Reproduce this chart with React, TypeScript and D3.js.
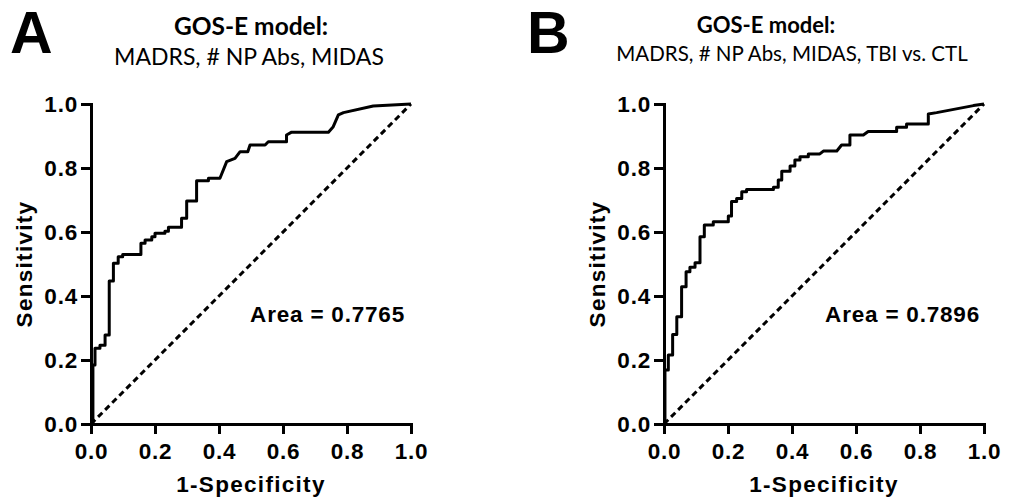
import React, { useEffect, useRef } from 'react';
import * as d3 from 'd3';

// ROC vertices (1-specificity, sensitivity)
const rocA_fpr = [0, 0.006, 0.006, 0.0125, 0.0125, 0.028, 0.028, 0.044, 0.044, 0.057, 0.057, 0.070, 0.070, 0.085, 0.085, 0.099, 0.099, 0.156, 0.156, 0.169, 0.169, 0.19, 0.19, 0.2, 0.2, 0.231, 0.231, 0.242, 0.242, 0.283, 0.283, 0.299, 0.299, 0.33, 0.33, 0.367, 0.367, 0.403, 0.424, 0.45, 0.466, 0.49, 0.497, 0.544, 0.554, 0.611, 0.611, 0.627, 0.742, 0.757, 0.773, 0.789, 0.882, 1];
const rocA_tpr = [0, 0, 0.184, 0.184, 0.237, 0.237, 0.246, 0.246, 0.278, 0.278, 0.447, 0.447, 0.502, 0.502, 0.523, 0.523, 0.530, 0.530, 0.565, 0.565, 0.575, 0.575, 0.585, 0.585, 0.596, 0.596, 0.602, 0.602, 0.615, 0.615, 0.643, 0.643, 0.697, 0.697, 0.760, 0.760, 0.768, 0.768, 0.82, 0.83, 0.851, 0.851, 0.872, 0.872, 0.882, 0.882, 0.903, 0.912, 0.912, 0.929, 0.966, 0.973, 0.994, 1];

const rocB_fpr = [0, 0.003, 0.003, 0.0135, 0.0135, 0.027, 0.027, 0.040, 0.040, 0.055, 0.055, 0.069, 0.069, 0.081, 0.081, 0.097, 0.097, 0.1125, 0.1125, 0.126, 0.126, 0.154, 0.154, 0.201, 0.201, 0.211, 0.211, 0.227, 0.227, 0.243, 0.243, 0.258, 0.258, 0.342, 0.342, 0.357, 0.357, 0.368, 0.368, 0.394, 0.394, 0.409, 0.409, 0.425, 0.425, 0.451, 0.451, 0.487, 0.498, 0.54, 0.555, 0.581, 0.581, 0.623, 0.638, 0.727, 0.727, 0.758, 0.758, 0.826, 0.826, 0.852, 0.967, 1];
const rocB_tpr = [0, 0, 0.169, 0.169, 0.216, 0.216, 0.28, 0.28, 0.335, 0.335, 0.429, 0.429, 0.476, 0.476, 0.49, 0.49, 0.504, 0.504, 0.585, 0.585, 0.622, 0.622, 0.632, 0.632, 0.65, 0.65, 0.695, 0.695, 0.705, 0.705, 0.726, 0.726, 0.733, 0.733, 0.74, 0.74, 0.7625, 0.7625, 0.79, 0.79, 0.806, 0.806, 0.825, 0.825, 0.835, 0.835, 0.844, 0.844, 0.853, 0.853, 0.872, 0.872, 0.903, 0.903, 0.914, 0.914, 0.927, 0.927, 0.9375, 0.9375, 0.969, 0.973, 0.995, 1];

const tickValues = [0, 0.2, 0.4, 0.6, 0.8, 1.0];
const panelLetters = ['A', 'B'];
const titleLine1 = ['GOS-E model:', 'GOS-E model:'];
const titleLine2 = ['MADRS, # NP Abs, MIDAS', 'MADRS, # NP Abs, MIDAS, TBI vs. CTL'];
const areas = ['0.7765', '0.7896'];

const BOLD = "'Liberation Sans', Arial, sans-serif";
const TITLE_FONT = "Lato, 'Open Sans', sans-serif";

export default function App() {
    const ref = useRef<SVGSVGElement | null>(null);

    useEffect(() => {
        if (!ref.current) return;
        const svg = d3.select(ref.current);
        svg.selectAll('*').remove();

        const panels = [
            { left: 91, fpr: rocA_fpr, tpr: rocA_tpr, letterX: 10, t1x: 251, t1y: 35, t2x: 249, t2y: 65, tsize: 23, bsize: 24.5, areaX: 405 },
            { left: 664, fpr: rocB_fpr, tpr: rocB_tpr, letterX: 527, t1x: 766, t1y: 33, t2x: 792, t2y: 61, tsize: 20.5, bsize: 22, areaX: 980 },
        ];
        const top = 104, size = 320;

        panels.forEach((p, i) => {
            const x = d3.scaleLinear().domain([0, 1]).range([p.left, p.left + size]);
            const y = d3.scaleLinear().domain([0, 1]).range([top + size, top]);

            // panel letter + title
            svg.append('text')
                .attr('x', p.letterX).attr('y', 53)
                .style('font-family', BOLD).style('font-weight', 'bold').style('font-size', '59px')
                .text(panelLetters[i]);
            svg.append('text')
                .attr('x', p.t1x).attr('y', p.t1y).attr('text-anchor', 'middle')
                .style('font-family', TITLE_FONT).style('font-weight', 'bold').style('font-size', p.bsize + 'px')
                .text(titleLine1[i]);
            svg.append('text')
                .attr('x', p.t2x).attr('y', p.t2y).attr('text-anchor', 'middle')
                .style('font-family', TITLE_FONT).style('font-size', p.tsize + 'px')
                .text(titleLine2[i]);

            // axes
            const fmt = d3.format('.1f');
            const gx = svg.append('g')
                .attr('transform', `translate(0,${top + size})`)
                .call(d3.axisBottom(x).tickValues(tickValues).tickFormat(fmt).tickSize(10).tickSizeOuter(0).tickPadding(9));
            const gy = svg.append('g')
                .attr('transform', `translate(${p.left},0)`)
                .call(d3.axisLeft(y).tickValues(tickValues).tickFormat(fmt).tickSize(10).tickSizeOuter(0).tickPadding(3));
            [gx, gy].forEach(g => {
                g.select('.domain').attr('stroke', '#000').attr('stroke-width', 3).attr('stroke-linecap', 'square');
                g.selectAll('.tick line').attr('stroke', '#000').attr('stroke-width', 3);
                g.selectAll('.tick text')
                    .attr('fill', '#000')
                    .style('font-family', BOLD).style('font-weight', 'bold').style('font-size', '22.5px')
                    .style('letter-spacing', '0.8px');
            });

            svg.append('text')
                .attr('x', p.left + size / 2).attr('y', 492).attr('text-anchor', 'middle')
                .style('font-family', BOLD).style('font-weight', 'bold').style('font-size', '22.5px')
                .style('letter-spacing', '1.3px')
                .text('1-Specificity');
            svg.append('text')
                .attr('transform', `translate(${p.left - 59},${top + size / 2}) rotate(-90)`)
                .attr('text-anchor', 'middle')
                .style('font-family', BOLD).style('font-weight', 'bold').style('font-size', '22.5px')
                .style('letter-spacing', '1.3px')
                .text('Sensitivity');

            // reference diagonal
            svg.append('path')
                .datum([0, 1])
                .attr('fill', 'none').attr('stroke', '#000').attr('stroke-width', 3)
                .attr('stroke-dasharray', '6,4')
                .attr('d', d3.line<number>().x(d => x(d)).y(d => y(d)));

            // ROC curve
            const pts = p.fpr.map((f, k) => [f, p.tpr[k]] as [number, number]);
            svg.append('path')
                .datum(pts)
                .attr('fill', 'none').attr('stroke', '#000').attr('stroke-width', 3)
                .attr('stroke-linejoin', 'round')
                .attr('d', d3.line<[number, number]>().x(d => x(d[0])).y(d => y(d[1])));

            svg.append('text')
                .attr('x', p.areaX).attr('y', 322).attr('text-anchor', 'end')
                .style('font-family', BOLD).style('font-weight', 'bold').style('font-size', '22.5px')
                .style('letter-spacing', '0.8px')
                .text(`Area = ${areas[i]}`);
        });
    }, []);

    return (
        <svg ref={ref} width={1031} height={502}
            style={{ position: 'absolute', left: 0, top: 0, background: '#fff' }} />
    );
}
